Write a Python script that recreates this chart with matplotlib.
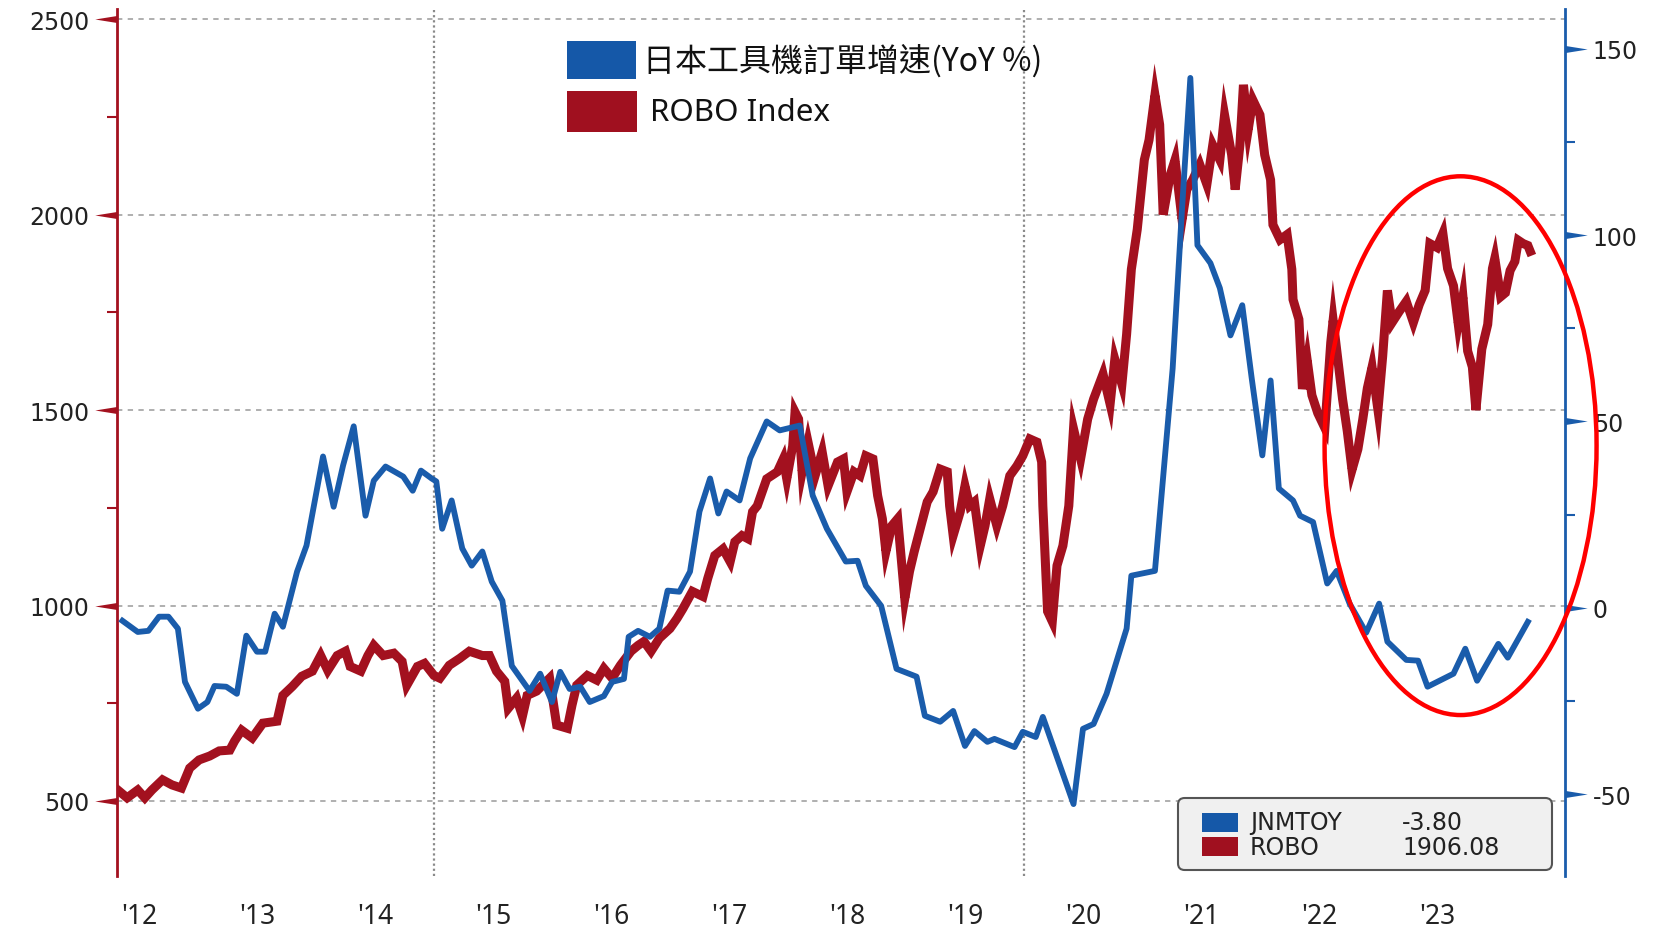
import matplotlib
matplotlib.use('Agg')
import matplotlib.pyplot as plt
from matplotlib.patches import Rectangle, FancyBboxPatch, Ellipse
from matplotlib.path import Path

# JNMTOY (Japan machine tool orders, YoY %) - right axis
blue_t = [2012.36, 2012.49, 2012.58, 2012.67, 2012.75, 2012.83, 2012.89, 2013.00, 2013.08, 2013.14,
          2013.24, 2013.33, 2013.41, 2013.50, 2013.57, 2013.65, 2013.72, 2013.84, 2013.92, 2014.06,
          2014.15, 2014.23, 2014.32, 2014.42, 2014.49, 2014.59, 2014.74, 2014.82, 2014.89, 2014.98,
          2015.02, 2015.07, 2015.15, 2015.24, 2015.32, 2015.41, 2015.49, 2015.58, 2015.66, 2015.81,
          2015.90, 2016.00, 2016.07, 2016.15, 2016.24, 2016.32, 2016.44, 2016.51, 2016.61, 2016.65,
          2016.73, 2016.83, 2016.91, 2016.98, 2017.08, 2017.17, 2017.25, 2017.34, 2017.41, 2017.48,
          2017.59, 2017.68, 2017.82, 2017.93, 2018.10, 2018.21, 2018.33, 2018.49, 2018.59, 2018.66,
          2018.79, 2018.92, 2019.09, 2019.16, 2019.29, 2019.40, 2019.50, 2019.58, 2019.69, 2019.75,
          2019.92, 2019.99, 2020.10, 2020.16, 2020.42, 2020.50, 2020.59, 2020.70, 2020.87, 2020.91,
          2021.11, 2021.26, 2021.34, 2021.41, 2021.47, 2021.58, 2021.66, 2021.75, 2021.85, 2021.93,
          2022.02, 2022.09, 2022.16, 2022.28, 2022.34, 2022.45, 2022.57, 2022.65, 2022.76, 2022.90,
          2023.01, 2023.08, 2023.24, 2023.34, 2023.42, 2023.64, 2023.74, 2023.84, 2024.02, 2024.10,
          2024.27]
blue_v = [-3.5, -6.5, -6.2, -2.4, -2.4, -5.6, -19.9, -27.1, -25.3, -21.0,
          -21.2, -23.1, -7.5, -11.8, -11.8, -1.6, -5.1, 9.7, 16.7, 40.6,
          27.1, 38.2, 48.7, 24.7, 34.1, 37.9, 35.2, 31.4, 36.8, 34.7,
          33.9, 21.2, 28.8, 15.9, 11.3, 15.1, 7.0, 1.9, -15.6, -22.3,
          -17.7, -25.3, -17.2, -21.8, -21.2, -25.3, -23.7, -19.9, -19.1, -7.8,
          -6.2, -7.8, -5.6, 4.6, 4.3, 9.7, 25.8, 34.7, 25.3, 31.2,
          28.8, 40.1, 50.0, 47.6, 48.9, 30.1, 21.2, 12.4, 12.6, 5.9,
          0.5, -16.4, -18.5, -29.0, -30.6, -27.7, -37.1, -33.1, -36.0, -35.2,
          -37.4, -33.3, -34.7, -29.3, -52.7, -32.5, -31.2, -23.1, -5.6, 8.6,
          9.9, 64.2, 107.3, 142.2, 97.3, 92.5, 85.8, 73.1, 81.2, 61.6,
          40.9, 61.0, 32.0, 28.8, 24.7, 23.0, 6.5, 9.9, 1.1, -6.7,
          1.1, -9.1, -14.0, -14.2, -21.2, -17.7, -11.0, -19.6, -9.7, -13.4,
          -3.8]

# ROBO Index - left axis
robo_t = [2012.32, 2012.40, 2012.49, 2012.55, 2012.61, 2012.70, 2012.78, 2012.86, 2012.93, 2013.01,
          2013.10, 2013.18, 2013.27, 2013.31, 2013.37, 2013.46, 2013.55, 2013.67, 2013.72, 2013.80,
          2013.88, 2013.97, 2014.04, 2014.10, 2014.18, 2014.25, 2014.29, 2014.38, 2014.44, 2014.49,
          2014.57, 2014.66, 2014.73, 2014.77, 2014.86, 2014.92, 2015.00, 2015.05, 2015.13, 2015.22,
          2015.30, 2015.41, 2015.47, 2015.53, 2015.60, 2015.63, 2015.70, 2015.75, 2015.79, 2015.87,
          2015.92, 2015.98, 2016.04, 2016.13, 2016.17, 2016.21, 2016.30, 2016.38, 2016.44, 2016.51,
          2016.58, 2016.67, 2016.73, 2016.78, 2016.84, 2016.91, 2017.00, 2017.06, 2017.11, 2017.19,
          2017.28, 2017.32, 2017.38, 2017.45, 2017.51, 2017.55, 2017.61, 2017.66, 2017.70, 2017.74,
          2017.82, 2017.91, 2017.96, 2017.99, 2018.04, 2018.06, 2018.09, 2018.12, 2018.17, 2018.23,
          2018.29, 2018.34, 2018.42, 2018.47, 2018.50, 2018.56, 2018.61, 2018.66, 2018.72, 2018.76,
          2018.80, 2018.83, 2018.88, 2018.93, 2018.96, 2018.99, 2019.03, 2019.07, 2019.12, 2019.18,
          2019.23, 2019.29, 2019.35, 2019.37, 2019.40, 2019.46, 2019.50, 2019.54, 2019.58, 2019.63,
          2019.67, 2019.71, 2019.77, 2019.82, 2019.88, 2019.94, 2019.99, 2020.05, 2020.11, 2020.15,
          2020.16, 2020.20, 2020.24, 2020.28, 2020.33, 2020.38, 2020.42, 2020.48, 2020.54, 2020.59,
          2020.67, 2020.73, 2020.77, 2020.83, 2020.87, 2020.91, 2020.96, 2021.02, 2021.06, 2021.11,
          2021.15, 2021.18, 2021.24, 2021.28, 2021.34, 2021.38, 2021.43, 2021.49, 2021.55, 2021.60,
          2021.66, 2021.70, 2021.76, 2021.79, 2021.83, 2021.86, 2021.90, 2021.94, 2022.00, 2022.04,
          2022.09, 2022.11, 2022.17, 2022.23, 2022.27, 2022.28, 2022.33, 2022.36, 2022.40, 2022.44,
          2022.49, 2022.55, 2022.60, 2022.62, 2022.66, 2022.70, 2022.74, 2022.78, 2022.83, 2022.87,
          2022.91, 2022.95, 2023.00, 2023.04, 2023.08, 2023.12, 2023.18, 2023.24, 2023.30, 2023.35,
          2023.40, 2023.44, 2023.50, 2023.55, 2023.59, 2023.64, 2023.68, 2023.72, 2023.76, 2023.80,
          2023.83, 2023.88, 2023.93, 2023.97, 2023.99, 2024.04, 2024.08, 2024.12, 2024.16, 2024.19,
          2024.23, 2024.27, 2024.29]
robo_v = [528, 508, 528, 508, 528, 554, 541, 533, 584, 605,
          615, 628, 630, 653, 681, 661, 699, 704, 770, 793,
          819, 832, 872, 834, 872, 883, 844, 832, 872, 898,
          872, 878, 857, 796, 844, 852, 821, 814, 847, 865,
          883, 872, 872, 832, 806, 737, 763, 717, 770, 781,
          796, 814, 694, 686, 745, 796, 821, 809, 839, 814,
          847, 883, 898, 908, 883, 916, 941, 967, 992, 1036,
          1023, 1069, 1128, 1145, 1112, 1163, 1179, 1171, 1240, 1255,
          1324, 1342, 1375, 1324, 1408, 1495, 1477, 1342, 1418, 1332,
          1393, 1306, 1367, 1375, 1291, 1342, 1332, 1383, 1375, 1281,
          1222, 1138, 1204, 1222, 1120, 1018, 1087, 1138, 1196, 1265,
          1291, 1349, 1342, 1255, 1179, 1240, 1306, 1255, 1265, 1153,
          1204, 1273, 1204, 1255, 1332, 1357, 1383, 1426, 1418, 1367,
          1255, 985, 959, 1102, 1153, 1255, 1452, 1375, 1477, 1528,
          1592, 1515, 1630, 1566, 1694, 1860, 1962, 2140, 2191, 2306,
          2230, 2000, 2102, 2140, 1987, 2064, 2089, 2128, 2077, 2178,
          2140, 2255, 2153, 2064, 2178, 2332, 2217, 2293, 2255, 2153,
          2089, 1974, 1936, 1949, 1860, 1783, 1732, 1554, 1628, 1538,
          1492, 1454, 1673, 1730, 1628, 1528, 1446, 1347, 1400, 1474,
          1556, 1610, 1500, 1638, 1806, 1724, 1752, 1778, 1724, 1770,
          1806, 1926, 1916, 1952, 1862, 1818, 1721, 1790, 1651, 1610,
          1500, 1656, 1719, 1862, 1888, 1790, 1800, 1857, 1880, 1934,
          1926, 1921, 1906]

year_pos = [2012.5 + i for i in range(12)]
year_labels = ["'12", "'13", "'14", "'15", "'16", "'17", "'18", "'19", "'20", "'21", "'22", "'23"]
left_ticks = [500, 1000, 1500, 2000, 2500]
right_ticks = [-50, 0, 50, 100, 150]
right_labels = ['-50', '0', '50', '100', '150']

BLUE = '#1a5cab'
RED = '#a3111f'
W, H = 1662, 937

fig = plt.figure(figsize=(W / 100, H / 100), dpi=100)
fig.patch.set_facecolor('white')
ax1 = fig.add_axes([117 / W, 1 - 877 / H, (1565 - 117) / W, (877 - 10) / H])
ax2 = ax1.twinx()

ax1.plot(robo_t, robo_v, color=RED, lw=6.5, solid_joinstyle='miter', zorder=3)
ax2.plot(blue_t, blue_v, color=BLUE, lw=4.2, zorder=3)

ax1.set_xlim(2012.314, 2024.585)
ax1.set_ylim(308, 2526)
ax2.set_ylim(-72.0, 160.7)

# grid
ax1.set_yticks(left_ticks)
ax1.set_yticks([750, 1250, 1750, 2250], minor=True)
ax1.grid(axis='y', which='major', color='#9a9a9a', lw=1.1, linestyle=(0, (3.5, 3.5)))
for yr in [2015, 2020]:
    ax1.axvline(yr, color='#8a8a8a', lw=1.6, linestyle=(0, (1, 1.3)), zorder=1)
ax1.set_axisbelow(True)

ax1.set_xticks(year_pos)
ax1.set_xticklabels(year_labels, fontsize=19, family='Noto Sans', color='#222222')
ax1.tick_params(axis='x', length=0, pad=19)

ax1.set_yticklabels([str(v) for v in left_ticks], fontsize=17, family='DejaVu Sans', color='#222222')
ax1.tick_params(axis='y', which='major', length=0, pad=20)
ax1.tick_params(axis='y', which='minor', length=7, width=1.5, color=RED, direction='out')

ax2.set_yticks(right_ticks)
ax2.set_yticklabels(right_labels, fontsize=17, family='DejaVu Sans', color='#222222')
ax2.set_yticks([-25, 25, 75, 125], minor=True)
ax2.tick_params(axis='y', which='major', length=0, pad=20)
ax2.tick_params(axis='y', which='minor', length=7, width=1.5, color=BLUE, direction='out')

for a in (ax1, ax2):
    for side in ['top', 'bottom', 'left', 'right']:
        a.spines[side].set_visible(False)
ax1.spines['left'].set_visible(True)
ax1.spines['left'].set_color(RED)
ax1.spines['left'].set_linewidth(2)
ax2.spines['right'].set_visible(True)
ax2.spines['right'].set_color(BLUE)
ax2.spines['right'].set_linewidth(2)

# wedge shaped major ticks
wedge_l = Path([(0, -0.16), (-1, 0), (0, 0.16), (0, -0.16)], [1, 2, 2, 79])
wedge_r = Path([(0, -0.16), (1, 0), (0, 0.16), (0, -0.16)], [1, 2, 2, 79])
ax1.plot([0] * len(left_ticks), left_ticks, transform=ax1.get_yaxis_transform(), marker=wedge_l,
         ms=32, mew=0, color=RED, linestyle='none', clip_on=False)
ax2.plot([1] * len(right_ticks), right_ticks, transform=ax2.get_yaxis_transform(), marker=wedge_r,
         ms=32, mew=0, color=BLUE, linestyle='none', clip_on=False)

# red highlight ellipse
ax2.add_patch(Ellipse((2023.70, 43.5), 2.305, 144.6, fill=False, edgecolor='#ff0000', lw=3.2,
                      clip_on=False, zorder=5))

# top legend
fig.patches.append(Rectangle((567 / W, 1 - 80 / H), 69 / W, 38 / H, transform=fig.transFigure,
                             facecolor='#1558a8', edgecolor='none'))
fig.patches.append(Rectangle((567 / W, 1 - 133 / H), 70 / W, 41 / H, transform=fig.transFigure,
                             facecolor='#a0101f', edgecolor='none'))
fig.text(643 / W, 1 - 61 / H, '日本工具機訂單增速(YoY %)', va='center', ha='left', fontsize=23,
         family=['Noto Sans CJK TC', 'DejaVu Sans'], color='#111111')
fig.text(650 / W, 1 - 113 / H, 'ROBO Index', va='center', ha='left', fontsize=22.5,
         family='Noto Sans', color='#111111')

# bottom value box
fig.patches.append(FancyBboxPatch((1178 / W, 1 - 871 / H), (1552 - 1178) / W, 72 / H,
                                  boxstyle='round,pad=0,rounding_size=0.004', mutation_aspect=W / H,
                                  transform=fig.transFigure, facecolor='#f0f0f0', edgecolor='#555555',
                                  lw=1.5))
fig.patches.append(Rectangle((1202 / W, 1 - 833 / H), 36 / W, 19 / H, transform=fig.transFigure,
                             facecolor='#1558a8', edgecolor='none'))
fig.patches.append(Rectangle((1202 / W, 1 - 857 / H), 36 / W, 19 / H, transform=fig.transFigure,
                             facecolor='#a0101f', edgecolor='none'))
fig.text(1250 / W, 1 - 823 / H, 'JNMTOY', va='center', fontsize=17, family='DejaVu Sans', color='#222222')
fig.text(1402 / W, 1 - 823 / H, '-3.80', va='center', fontsize=17, family='DejaVu Sans', color='#222222')
fig.text(1250 / W, 1 - 848 / H, 'ROBO', va='center', fontsize=17, family='DejaVu Sans', color='#222222')
fig.text(1402 / W, 1 - 848 / H, '1906.08', va='center', fontsize=17, family='DejaVu Sans', color='#222222')

fig.savefig('out.png', dpi=100)
